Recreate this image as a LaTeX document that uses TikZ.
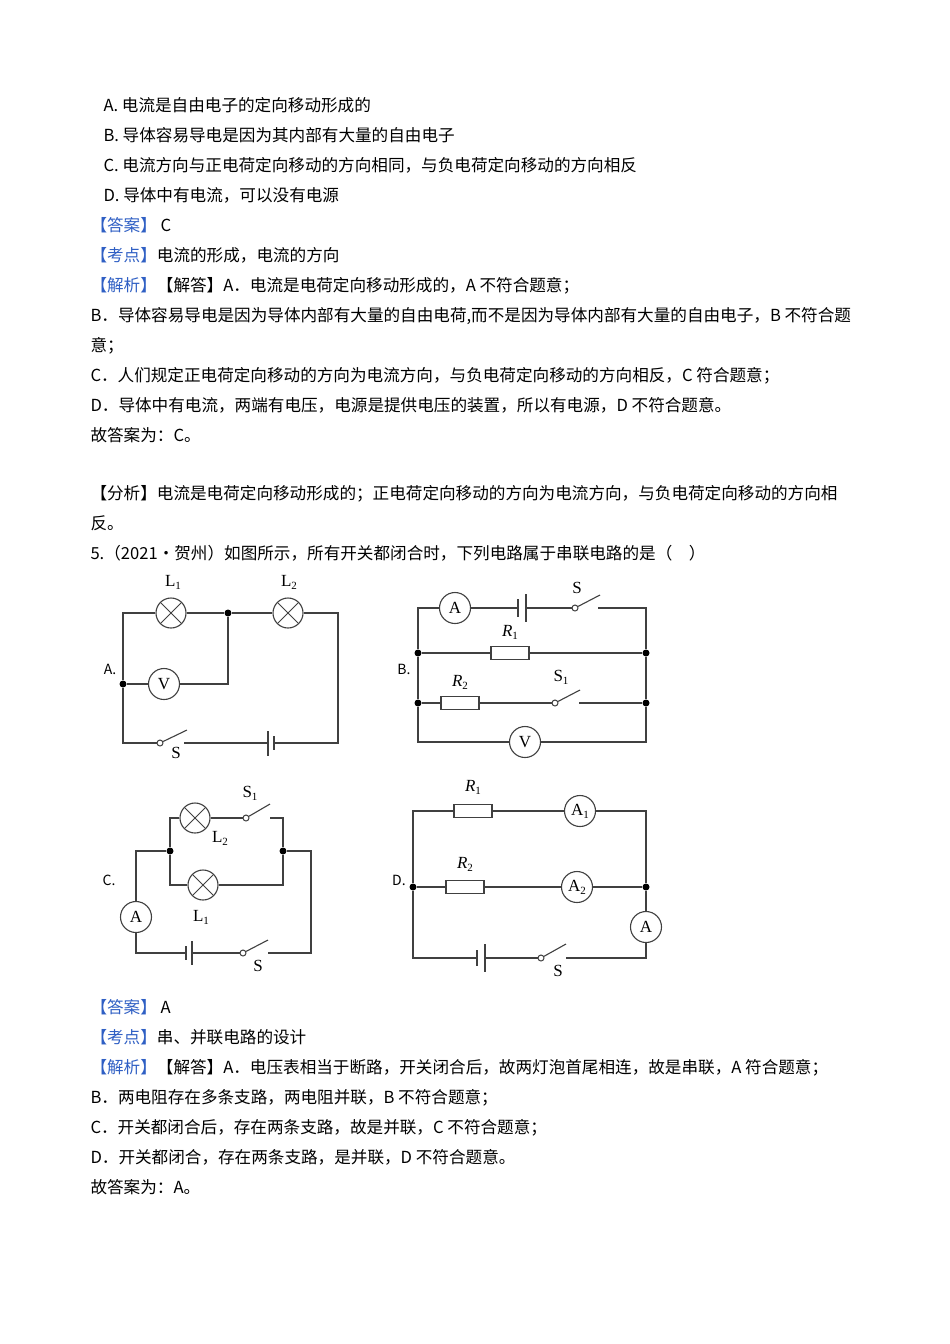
\documentclass[tikz,border=0pt]{standalone}
\usepackage{fontspec}
\setmainfont{Noto Sans CJK SC}
\newfontfamily\ser{Liberation Serif}
\definecolor{kb}{HTML}{2F5FC4}
\begin{document}
\begin{tikzpicture}[x=1pt,y=-1pt,line width=1pt,
  t/.style={anchor=base west,inner sep=0pt,font=\fontsize{16.6}{18}\selectfont},
  lab/.style={inner sep=0pt,font=\ser\fontsize{17}{18}\selectfont},
  opt/.style={inner sep=0pt,font=\fontsize{14}{15}\selectfont},
  w/.style={draw=black!75,line width=1.1pt},
  lamp/.style={circle,draw=black!75,line width=1.1pt,minimum size=30pt,inner sep=0pt,fill=white,
    path picture={\draw[black!75,line width=1pt] (path picture bounding box.north west)--(path picture bounding box.south east) (path picture bounding box.north east)--(path picture bounding box.south west);}},
  meter/.style={circle,draw=black!75,line width=1.1pt,minimum size=31pt,inner sep=0pt,fill=white,font=\ser\fontsize{17}{18}\selectfont},
  res/.style={rectangle,draw=black!75,line width=1.1pt,minimum width=38pt,minimum height=13pt,fill=white,inner sep=0pt},
  dot/.style={circle,fill=black,inner sep=0pt,minimum size=7pt},
  piv/.style={circle,draw=black!75,fill=white,inner sep=0pt,minimum size=6pt,line width=1pt}]
\useasboundingbox (0,0) rectangle (950,1344);
\fill[white] (0,0) rectangle (950,1344);
% text
\node[t] (l1) at (103,111) {A. 电流是自由电子的定向移动形成的};
\node[t] (l2) at (103,141) {B. 导体容易导电是因为其内部有大量的自由电子};
\node[t] (l3) at (103,171) {C. 电流方向与正电荷定向移动的方向相同，与负电荷定向移动的方向相反};
\node[t] (l4) at (103,201) {D. 导体中有电流，可以没有电源};
\node[t] (l5) at (90,231) {\textcolor{kb}{【答案】}\ C};
\node[t] (l6) at (90,261) {\textcolor{kb}{【考点】}电流的形成，电流的方向};
\node[t] (l7) at (90,291) {\textcolor{kb}{【解析】}【解答】A．电流是电荷定向移动形成的，A 不符合题意；};
\node[t] (l8) at (90,321) {B．导体容易导电是因为导体内部有大量的自由电荷,而不是因为导体内部有大量的自由电子，B 不符合题};
\node[t] (l9) at (90,351) {意；};
\node[t] (l10) at (90,381) {C．人们规定正电荷定向移动的方向为电流方向，与负电荷定向移动的方向相反，C 符合题意；};
\node[t] (l11) at (90,411) {D．导体中有电流，两端有电压，电源是提供电压的装置，所以有电源，D 不符合题意。};
\node[t] (l12) at (90,441) {故答案为：C。};
\node[t] (l13) at (90,499) {【分析】电流是电荷定向移动形成的；正电荷定向移动的方向为电流方向，与负电荷定向移动的方向相};
\node[t] (l14) at (90,529) {反。};
\node[t] (l15) at (90,559) {5.（2021·贺州）如图所示，所有开关都闭合时，下列电路属于串联电路的是（\quad）};
\node[t] (m1) at (90,1013) {\textcolor{kb}{【答案】}\ A};
\node[t] (m2) at (90,1043) {\textcolor{kb}{【考点】}串、并联电路的设计};
\node[t] (m3) at (90,1073) {\textcolor{kb}{【解析】}【解答】A．电压表相当于断路，开关闭合后，故两灯泡首尾相连，故是串联，A 符合题意；};
\node[t] (m4) at (90,1103) {B．两电阻存在多条支路，两电阻并联，B 不符合题意；};
\node[t] (m5) at (90,1133) {C．开关都闭合后，存在两条支路，故是并联，C 不符合题意；};
\node[t] (m6) at (90,1163) {D．开关都闭合，存在两条支路，是并联，D 不符合题意。};
\node[t] (m7) at (90,1193) {故答案为：A。};
% ---------- A
\coordinate (a1) at (123,613); \coordinate (a2) at (338,613);
\coordinate (a3) at (338,743); \coordinate (a4) at (123,743);
\node[lamp] (L1) at (171,613) {}; \node[lamp] (L2) at (288,613) {};
\node[dot] (aj) at (228,613) {}; \node[dot] (al) at (123,684) {};
\node[meter] (aV) at (164,684) {V};
\coordinate (avr) at (228,684);
\node[piv] (aS) at (160,743) {}; \coordinate (aSe) at (187,730); \coordinate (aSr) at (184,743);
\coordinate (ab1) at (268,743); \coordinate (ab2) at (274,743);
\draw[w] (L1)--(a1)--(al)--(a4)--(aS);
\draw[w] (L1)--(aj)--(L2)--(a2)--(a3)--(ab2);
\draw[w] (aSr)--(ab1);
\draw[w] (aS)--(aSe);
\draw[w] (al)--(aV)--(avr)--(aj);
\draw[w] (268,731)--(268,756); \draw[w] (274,736)--(274,750);
\node[lab] (tL1) at (173,582) {L\raisebox{-3pt}{\fontsize{11}{11}\selectfont 1}};
\node[lab] (tL2) at (289,582) {L\raisebox{-3pt}{\fontsize{11}{11}\selectfont 2}};
\node[lab] (tAS) at (176,753) {S};
\node[opt] (tA) at (110,669) {A.};
% ---------- B
\coordinate (b1) at (418,608); \coordinate (b2) at (646,608);
\coordinate (b3) at (646,742); \coordinate (b4) at (418,742);
\node[meter] (bA) at (455,608) {A};
\coordinate (bb1) at (518,608); \coordinate (bb2) at (526,608);
\node[piv] (bS) at (575,608) {}; \coordinate (bSe) at (600,595); \coordinate (bSr) at (598,608);
\node[dot] (bd1) at (418,653) {}; \node[dot] (bd2) at (418,703) {};
\node[dot] (bd3) at (646,653) {}; \node[dot] (bd4) at (646,703) {};
\node[res] (bR1) at (510,653) {}; \node[res] (bR2) at (460,703) {};
\node[piv] (bS1) at (555,703) {}; \coordinate (bS1e) at (580,690); \coordinate (bS1r) at (579,703);
\node[meter] (bV) at (525,742) {V};
\draw[w] (bA)--(b1)--(bd1)--(bd2)--(b4)--(bV)--(b3)--(bd4)--(bd3)--(b2)--(bSr);
\draw[w] (bA)--(bb1); \draw[w] (bb2)--(bS); \draw[w] (bS)--(bSe);
\draw[w] (518,599)--(518,617); \draw[w] (526,594)--(526,622);
\draw[w] (bd1)--(bR1)--(bd3);
\draw[w] (bd2)--(bR2)--(bS1); \draw[w] (bS1)--(bS1e); \draw[w] (bS1r)--(bd4);
\node[lab] (tbS) at (577,588) {S};
\node[lab] (tbR1) at (510,632) {\textit{R}\raisebox{-3pt}{\fontsize{11}{11}\selectfont 1}};
\node[lab] (tbR2) at (460,682) {\textit{R}\raisebox{-3pt}{\fontsize{11}{11}\selectfont 2}};
\node[lab] (tbS1) at (561,677) {S\raisebox{-3pt}{\fontsize{11}{11}\selectfont 1}};
\node[opt] (tB) at (404,669) {B.};
% ---------- C
\node[lamp] (cL2) at (195,818) {}; \node[lamp] (cL1) at (203,885) {};
\node[piv] (cS1) at (246,818) {}; \coordinate (cS1e) at (270,804); \coordinate (cS1r) at (270,818);
\coordinate (c1) at (170,818); \coordinate (c2) at (283,818);
\coordinate (c3) at (170,885); \coordinate (c4) at (283,885);
\node[dot] (cdl) at (170,851) {}; \node[dot] (cdr) at (283,851) {};
\coordinate (c5) at (136,851); \coordinate (c6) at (311,851);
\coordinate (c7) at (136,953); \coordinate (c8) at (311,953);
\node[meter] (cA) at (136,917) {A};
\node[piv] (cS) at (243,953) {}; \coordinate (cSe) at (268,940); \coordinate (cSr) at (268,953);
\draw[w] (cS1)--(cL2)--(c1)--(cdl)--(c3)--(cL1)--(c4)--(cdr)--(c2)--(cS1r);
\draw[w] (cS1)--(cS1e);
\draw[w] (cdl)--(c5)--(cA)--(c7)--(186,953); \draw[w] (192,953)--(cS); \draw[w] (cS)--(cSe);
\draw[w] (cSr)--(c8)--(c6)--(cdr);
\draw[w] (186,946)--(186,960); \draw[w] (192,941)--(192,965);
\node[lab] (tcS1) at (250,793) {S\raisebox{-3pt}{\fontsize{11}{11}\selectfont 1}};
\node[lab] (tcL2) at (220,838) {L\raisebox{-3pt}{\fontsize{11}{11}\selectfont 2}};
\node[lab] (tcL1) at (201,917) {L\raisebox{-3pt}{\fontsize{11}{11}\selectfont 1}};
\node[lab] (tcS) at (258,966) {S};
\node[opt] (tC) at (109,880) {C.};
% ---------- D
\coordinate (d1) at (413,811); \coordinate (d2) at (646,811);
\coordinate (d3) at (646,958); \coordinate (d4) at (413,958);
\node[res] (dR1) at (473,811) {}; \node[meter] (dA1) at (580,811) {A\raisebox{-3pt}{\fontsize{11}{11}\selectfont 1}};
\node[res] (dR2) at (465,887) {}; \node[meter] (dA2) at (577,887) {A\raisebox{-3pt}{\fontsize{11}{11}\selectfont 2}};
\node[dot] (ddl) at (413,887) {}; \node[dot] (ddr) at (646,887) {};
\node[meter] (dA) at (646,927) {A};
\node[piv] (dS) at (541,958) {}; \coordinate (dSe) at (566,944); \coordinate (dSr) at (566,958);
\draw[w] (ddl)--(d1)--(dR1)--(dA1)--(d2)--(ddr)--(dA)--(d3)--(dSr);
\draw[w] (ddl)--(dR2)--(dA2)--(ddr);
\draw[w] (ddl)--(d4)--(477,958); \draw[w] (485,958)--(dS); \draw[w] (dS)--(dSe);
\draw[w] (477,950)--(477,966); \draw[w] (485,944)--(485,972);
\node[lab] (tdR1) at (473,787) {\textit{R}\raisebox{-3pt}{\fontsize{11}{11}\selectfont 1}};
\node[lab] (tdR2) at (465,864) {\textit{R}\raisebox{-3pt}{\fontsize{11}{11}\selectfont 2}};
\node[lab] (tdS) at (558,971) {S};
\node[opt] (tD) at (399,880) {D.};
\end{tikzpicture}
\end{document}
